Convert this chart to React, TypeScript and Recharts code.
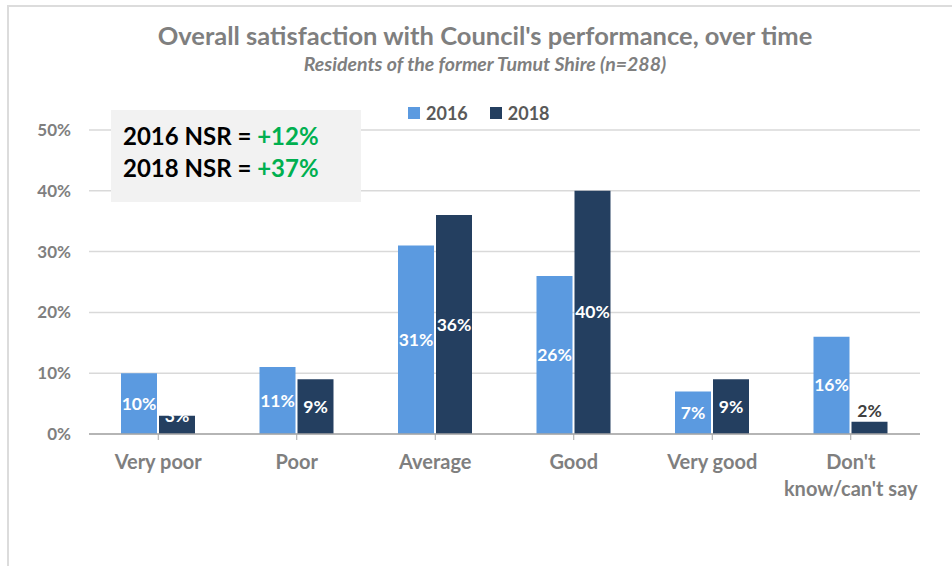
import React from "react";
import { BarChart, Bar, XAxis, YAxis, CartesianGrid, LabelList } from "recharts";

const categories = ["Very poor", "Poor", "Average", "Good", "Very good", "Don't know/can't say"];
const values2016 = [10, 11, 31, 26, 7, 16];
const values2018 = [3, 9, 36, 40, 9, 2];
const yTicks = [0, 10, 20, 30, 40, 50];
const seriesNames = ["2016", "2018"];
const nsrLines = [
  { label: "2016 NSR = ", value: "+12%" },
  { label: "2018 NSR = ", value: "+37%" },
];

const data = categories.map((c, i) => ({ name: c, s2016: values2016[i], s2018: values2018[i] }));

const COLORS = ["#5B9AE0", "#243F60"];
const FONT = "Lato, 'Open Sans', sans-serif";
const GRAY = "#7F7F7F";

const XTick = (props: any) => {
  const { x, y, payload } = props;
  const v: string = payload.value;
  const lines = v === "Don't know/can't say" ? ["Don't", "know/can't say"] : [v];
  return (
    <text x={x} y={y} textAnchor="middle" fill={GRAY} fontFamily={FONT} fontWeight="bold" fontSize={20}>
      {lines.map((l, i) => (
        <tspan key={i} x={x} dy={27}>{l}</tspan>
      ))}
    </text>
  );
};

const makeLabel = (series: number) => (props: any) => {
  const { x, y, width, height, value, index } = props;
  const cx = x + width / 2;
  const small = height < 20;
  if (series === 1 && index === 5) {
    return (
      <text x={cx} y={y - 5} textAnchor="middle" fill="#404040" fontFamily={FONT} fontWeight="bold" fontSize={17.5}>
        {value}%
      </text>
    );
  }
  return (
    <text x={cx} y={small ? y + 6 : y + height / 2 + 6} textAnchor="middle" fill="#FFFFFF" fontFamily={FONT} fontWeight="bold" fontSize={17.5}>
      {value}%
    </text>
  );
};

export default function App() {
  return (
    <div style={{ position: "absolute", left: 0, top: 0, width: 952, height: 566, background: "#fff", overflow: "hidden" }}>
      <div style={{ position: "absolute", left: 7, top: 5, right: -5, bottom: -5, border: "2px solid #DCDCDC" }} />
      <div style={{ position: "absolute", left: 0, top: 20, width: 970, textAlign: "center", fontFamily: FONT, fontWeight: "bold", fontSize: 25.5, color: GRAY }}>
        Overall satisfaction with Council's performance, over time
      </div>
      <div style={{ position: "absolute", left: 0, top: 52, width: 970, textAlign: "center", fontFamily: FONT, fontWeight: "bold", fontStyle: "italic", fontSize: 19.5, color: GRAY }}>
        Residents of the former Tumut Shire (n=288)
      </div>
      <div style={{ position: "absolute", left: 408, top: 102, display: "flex", gap: 22, fontFamily: FONT, fontWeight: "bold", fontSize: 18, color: "#595959" }}>
        {seriesNames.map((n, i) => (
          <div key={n} style={{ display: "flex", alignItems: "center" }}>
            <span style={{ width: 12, height: 12, background: COLORS[i], display: "inline-block", marginRight: 6 }} />
            {n}
          </div>
        ))}
      </div>
      <BarChart
        width={952}
        height={566}
        data={data}
        margin={{ top: 130, right: 32, bottom: 72, left: 8 }}
        barGap={2}
        barSize={36}
        style={{ position: "absolute", left: 0, top: 0 }}
      >
        <CartesianGrid vertical={false} stroke="#D9D9D9" strokeWidth={1.5} />
        <XAxis
          dataKey="name"
          tick={<XTick />}
          tickLine={{ stroke: "#A6A6A6" }}
          axisLine={{ stroke: "#A6A6A6", strokeWidth: 1.5 }}
          interval={0}
          height={60}
          tickSize={6}
        />
        <YAxis
          width={81}
          domain={[0, 50]}
          ticks={yTicks}
          tickFormatter={(v: number) => `${v}%`}
          axisLine={false}
          tickLine={false}
          tick={{ fill: GRAY, fontFamily: FONT, fontWeight: "bold", fontSize: 17 }}
          tickMargin={12}
        />
        <Bar dataKey="s2016" name="2016" fill={COLORS[0]} isAnimationActive={false}>
          <LabelList dataKey="s2016" content={makeLabel(0)} />
        </Bar>
        <Bar dataKey="s2018" name="2018" fill={COLORS[1]} isAnimationActive={false}>
          <LabelList dataKey="s2018" content={makeLabel(1)} />
        </Bar>
      </BarChart>
      <div style={{ position: "absolute", left: 111, top: 110, width: 250, height: 92, background: "#F2F2F2", fontFamily: FONT, fontWeight: "bold", fontSize: 24, color: "#000", boxSizing: "border-box", paddingLeft: 12, paddingTop: 10, lineHeight: "32px" }}>
        {nsrLines.map((l) => (
          <div key={l.label}>
            {l.label}<span style={{ color: "#00B050" }}>{l.value}</span>
          </div>
        ))}
      </div>
    </div>
  );
}
